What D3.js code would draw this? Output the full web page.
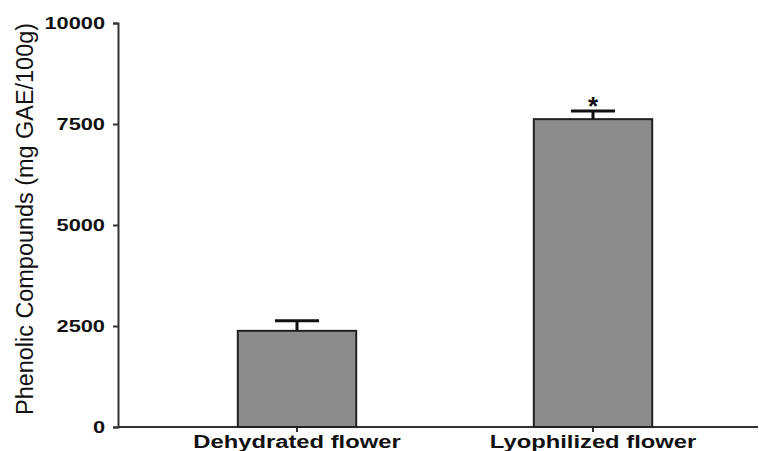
<!DOCTYPE html>
<html>
<head>
<meta charset="utf-8">
<script src="https://cdn.jsdelivr.net/npm/d3@7"></script>
<style>
  body { margin: 0; background: #fff; }
  text { font-family: "Liberation Sans", Arial, sans-serif; }
</style>
</head>
<body>
<div id="chart"></div>
<script>
// Data
const categories = ["Dehydrated flower", "Lyophilized flower"];
const values = [2380, 7620];
const errors = [250, 200];
const marks = ["", "*"];
const yTicks = [0, 2500, 5000, 7500, 10000];

const width = 759;
const height = 451;
const stretch = 1.32; // the source picture is widened horizontally

const svg = d3.select("#chart")
  .append("svg")
  .attr("width", width)
  .attr("height", height);

const y = d3.scaleLinear().domain([0, 10000]).range([427, 23]);

const x = d3.scaleBand()
  .domain(categories)
  .range([149, 741])
  .paddingInner(0.6)
  .paddingOuter(0.3);

// widen a text around its anchor
function widen(sel, k) {
  sel.each(function() {
    const len = this.getComputedTextLength();
    d3.select(this)
      .attr("textLength", len * k)
      .attr("lengthAdjust", "spacingAndGlyphs");
  });
}

// Y axis
const yAxis = svg.append("g")
  .attr("transform", "translate(118,0)")
  .call(d3.axisLeft(y).tickValues(yTicks).tickSize(5).tickPadding(8).tickFormat(d3.format("d")));
yAxis.select(".domain").attr("stroke", "#333").attr("stroke-width", 2);
yAxis.selectAll(".tick line").attr("stroke", "#333").attr("stroke-width", 2);
yAxis.selectAll(".tick text")
  .attr("font-size", 16.5)
  .attr("font-weight", "bold")
  .attr("fill", "#111")
  .attr("font-family", "Liberation Sans, Arial, sans-serif")
  .call(widen, stretch);

// X axis
const xAxis = svg.append("g")
  .attr("transform", "translate(0,427)")
  .call(d3.axisBottom(x).tickSize(5).tickSizeOuter(0));
xAxis.select(".domain").remove();
xAxis.append("line")
  .attr("x1", 118).attr("x2", 758)
  .attr("stroke", "#333").attr("stroke-width", 2);
xAxis.selectAll(".tick line").attr("stroke", "#333").attr("stroke-width", 2);
xAxis.selectAll(".tick text")
  .attr("font-size", 18)
  .attr("font-weight", "bold")
  .attr("fill", "#111")
  .attr("font-family", "Liberation Sans, Arial, sans-serif")
  .attr("y", 21)
  .attr("dy", 0)
  .call(widen, stretch);

// Bars
svg.selectAll(".bar")
  .data(categories)
  .enter()
  .append("rect")
  .attr("x", d => x(d))
  .attr("y", (d, i) => y(values[i]))
  .attr("width", x.bandwidth())
  .attr("height", (d, i) => y(0) - y(values[i]))
  .attr("fill", "#8c8c8c")
  .attr("stroke", "#222")
  .attr("stroke-width", 2);

// Error bars
const capHalf = 22;
const err = svg.selectAll(".err")
  .data(categories)
  .enter()
  .append("g");

err.append("line")
  .attr("x1", d => x(d) + x.bandwidth() / 2)
  .attr("x2", d => x(d) + x.bandwidth() / 2)
  .attr("y1", (d, i) => y(values[i]))
  .attr("y2", (d, i) => y(values[i] + errors[i]))
  .attr("stroke", "#111")
  .attr("stroke-width", 3);

err.append("line")
  .attr("x1", d => x(d) + x.bandwidth() / 2 - capHalf)
  .attr("x2", d => x(d) + x.bandwidth() / 2 + capHalf)
  .attr("y1", (d, i) => y(values[i] + errors[i]))
  .attr("y2", (d, i) => y(values[i] + errors[i]))
  .attr("stroke", "#111")
  .attr("stroke-width", 3);

err.append("text")
  .attr("x", d => x(d) + x.bandwidth() / 2)
  .attr("y", (d, i) => y(values[i] + errors[i]) + 4)
  .attr("text-anchor", "middle")
  .attr("font-size", 26)
  .attr("font-weight", "bold")
  .attr("fill", "#111")
  .text((d, i) => marks[i]);

// Y title (letters widened across, like the source)
svg.append("text")
  .attr("transform", "translate(33,219) rotate(-90) scale(1,1.25)")
  .attr("text-anchor", "middle")
  .attr("font-size", 19.5)
  .attr("fill", "#111")
  .attr("textLength", 392)
  .attr("lengthAdjust", "spacingAndGlyphs")
  .text("Phenolic Compounds (mg GAE/100g)");
</script>
</body>
</html>
